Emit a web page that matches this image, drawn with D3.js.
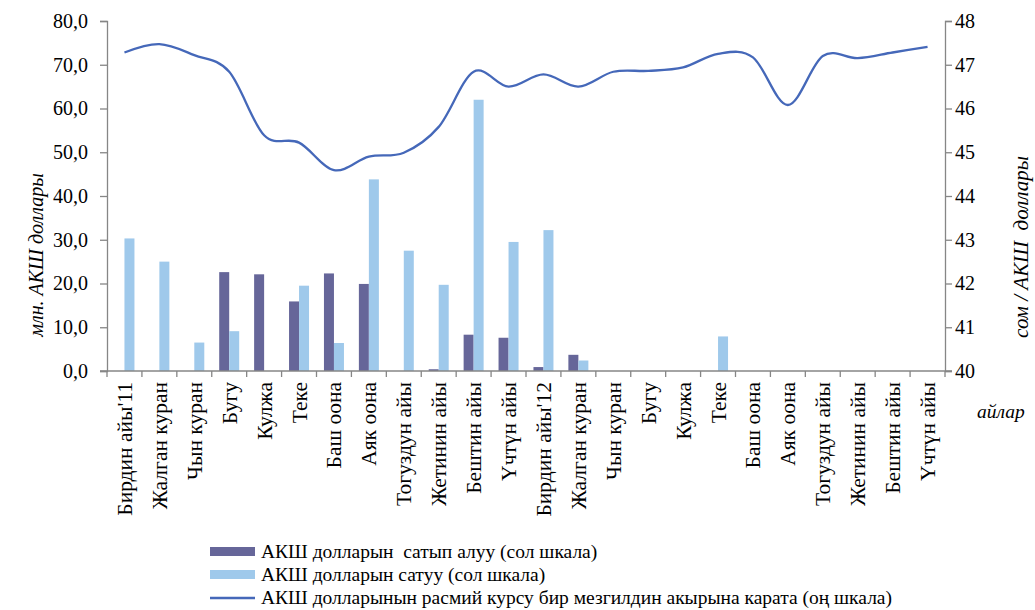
<!DOCTYPE html>
<html>
<head>
<meta charset="utf-8">
<script src="https://cdn.jsdelivr.net/npm/d3@7"></script>
<style>
  body { margin: 0; background: #fff; }
  svg { font-family: "Liberation Serif", "Times New Roman", serif; }
</style>
</head>
<body>
<div id="chart"></div>
<script>
// === DATA ===
const months = [
    "Бирдин айы'11", "Жалган куран", "Чын куран", "Бугу", "Кулжа", "Теке",
    "Баш оона", "Аяк оона", "Тогуздун айы", "Жетинин айы", "Бештин айы", "Үчтүн айы",
    "Бирдин айы'12", "Жалган куран", "Чын куран", "Бугу", "Кулжа", "Теке",
    "Баш оона", "Аяк оона", "Тогуздун айы", "Жетинин айы", "Бештин айы", "Үчтүн айы"
];
// purchases of USD, mln (left scale)
const buyValues = [0, 0, 0, 22.6, 22.1, 15.9, 22.3, 19.9, 0, 0.4, 8.3, 7.6,
                   0.9, 3.7, 0, 0, 0, 0, 0, 0, 0, 0, 0, 0];
// sales of USD, mln (left scale)
const sellValues = [30.3, 25.0, 6.5, 9.1, 0, 19.5, 6.4, 43.8, 27.5, 19.7, 62.0, 29.5,
                    32.2, 2.4, 0, 0, 0, 7.9, 0, 0, 0, 0, 0, 0];
// official rate at end of period, som per USD (right scale)
const rateValues = [47.28, 47.47, 47.22, 46.84, 45.39, 45.22, 44.59, 44.9, 44.99, 45.58, 46.84, 46.5,
                    46.78, 46.5, 46.84, 46.86, 46.94, 47.25, 47.17, 46.08, 47.2, 47.15, 47.28, 47.41];
const leftTicks = [0, 10, 20, 30, 40, 50, 60, 70, 80];
const rightTicks = [40, 41, 42, 43, 44, 45, 46, 47, 48];
const legendLabels = [
    "АКШ долларын  сатып алуу (сол шкала)",
    "АКШ долларын сатуу (сол шкала)",
    "АКШ долларынын расмий курсу бир мезгилдин акырына карата (оң шкала)"
];

// === LAYOUT ===
const W = 1035, H = 610;
const plotLeft = 107, plotRight = 945, plotTop = 21, plotBottom = 371;
const axisColor = "#868686";
const darkBar = "#666699", lightBar = "#9fc9eb", lineColor = "#4568b9";

const svg = d3.select("#chart").append("svg")
    .attr("width", W)
    .attr("height", H);

const x = d3.scaleBand()
    .domain(d3.range(months.length))
    .range([plotLeft, plotRight])
    .paddingInner(0)
    .paddingOuter(0);

const yLeft = d3.scaleLinear().domain([0, 80]).range([plotBottom, plotTop]);
const yRight = d3.scaleLinear().domain([40, 48]).range([plotBottom, plotTop]);

const barW = 10;

// bars: buy (dark) left of center, sell (light) right of center
svg.append("g").selectAll("rect")
    .data(buyValues)
    .join("rect")
    .attr("x", (d, i) => x(i) + x.bandwidth() / 2 - barW)
    .attr("y", d => yLeft(d))
    .attr("width", barW)
    .attr("height", d => yLeft(0) - yLeft(d))
    .attr("fill", darkBar);

svg.append("g").selectAll("rect")
    .data(sellValues)
    .join("rect")
    .attr("x", (d, i) => x(i) + x.bandwidth() / 2)
    .attr("y", d => yLeft(d))
    .attr("width", barW)
    .attr("height", d => yLeft(0) - yLeft(d))
    .attr("fill", lightBar);

// === AXES ===
const fmt = d => d3.format(".1f")(d).replace(".", ",");

const gLeft = svg.append("g")
    .attr("transform", `translate(${plotLeft},0)`)
    .call(d3.axisLeft(yLeft).tickValues(leftTicks).tickFormat(fmt).tickSize(7).tickPadding(12));

const gRight = svg.append("g")
    .attr("transform", `translate(${plotRight},0)`)
    .call(d3.axisRight(yRight).tickValues(rightTicks).tickFormat(d3.format("d")).tickSize(7).tickPadding(3));

// x axis: ticks at category boundaries
const gX = svg.append("g")
    .attr("transform", `translate(0,${plotBottom})`);
gX.append("line")
    .attr("x1", plotLeft - 7).attr("x2", plotRight + 7)
    .attr("stroke", axisColor).attr("stroke-width", 1.3);
gX.selectAll(".xtick")
    .data(d3.range(months.length + 1))
    .join("line")
    .attr("class", "xtick")
    .attr("x1", i => i < months.length ? x(i) : plotRight)
    .attr("x2", i => i < months.length ? x(i) : plotRight)
    .attr("y1", 0).attr("y2", 6)
    .attr("stroke", axisColor).attr("stroke-width", 1.3);
gX.selectAll(".xlabel")
    .data(months)
    .join("text")
    .attr("class", "xlabel")
    .attr("transform", (d, i) => `translate(${x(i) + x.bandwidth() / 2 + 7.5},11) rotate(-90)`)
    .attr("text-anchor", "end")
    .attr("font-size", "21.5px")
    .attr("fill", "#000")
    .text(d => d);

[gLeft, gRight].forEach(g => {
    g.select(".domain").attr("stroke", axisColor).attr("stroke-width", 1.3);
    g.selectAll(".tick line").attr("stroke", axisColor).attr("stroke-width", 1.3);
    g.selectAll(".tick text")
        .attr("font-family", "Liberation Serif, serif")
        .attr("font-size", "20px")
        .attr("fill", "#000");
});

// === LINE (smoothed) ===
const line = d3.line()
    .x((d, i) => x(i) + x.bandwidth() / 2)
    .y(d => yRight(d))
    .curve(d3.curveCatmullRom.alpha(0));

svg.append("path")
    .datum(rateValues)
    .attr("d", line)
    .attr("fill", "none")
    .attr("stroke", lineColor)
    .attr("stroke-width", 2.3);

// === AXIS TITLES ===
svg.append("text")
    .attr("transform", "translate(43,255) rotate(-90)")
    .attr("text-anchor", "middle")
    .attr("font-style", "italic")
    .attr("font-size", "20px")
    .text("млн. АКШ доллары");

svg.append("text")
    .attr("transform", "translate(1028,247) rotate(-90)")
    .attr("text-anchor", "middle")
    .attr("font-style", "italic")
    .attr("font-size", "21px")
    .attr("xml:space", "preserve")
    .text("сом / АКШ  доллары");

svg.append("text")
    .attr("x", 977)
    .attr("y", 418)
    .attr("font-style", "italic")
    .attr("font-size", "19.5px")
    .text("айлар");

// === LEGEND ===
const legend = svg.append("g").attr("transform", "translate(210,552)");
const legendRows = legend.selectAll("g")
    .data(legendLabels)
    .join("g")
    .attr("transform", (d, i) => `translate(0,${i * 23})`);

legendRows.filter((d, i) => i < 2).append("rect")
    .attr("x", 0).attr("y", -5)
    .attr("width", 45).attr("height", 9)
    .attr("fill", (d, i) => i === 0 ? darkBar : lightBar);

legendRows.filter((d, i) => i === 2).append("line")
    .attr("x1", 0).attr("x2", 45)
    .attr("y1", 0).attr("y2", 0)
    .attr("stroke", lineColor).attr("stroke-width", 2.3);

legendRows.append("text")
    .attr("x", 51)
    .attr("y", 6)
    .attr("font-size", "19.5px")
    .attr("xml:space", "preserve")
    .text(d => d);
</script>
</body>
</html>
